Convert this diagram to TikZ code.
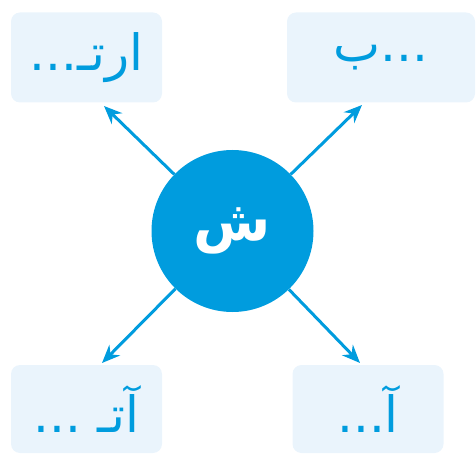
\documentclass[tikz,border=0pt]{standalone}
\usepackage{fontspec}
\newfontfamily\arabicfont[Script=Arabic]{DejaVu Sans}
\TeXXeTstate=1
\usetikzlibrary{arrows.meta}
\definecolor{azure}{RGB}{0,156,222}
\definecolor{palebox}{RGB}{234,244,252}
\tikzset{
	wordbox/.style={fill=palebox,rounded corners=9pt,minimum width=151pt,minimum height=90pt,
		text=azure,font=\arabicfont\fontsize{50}{54}\selectfont},
	hub/.style={circle,fill=azure,minimum size=162pt,inner sep=0pt,
		text=white,font=\arabicfont\bfseries\fontsize{56}{60}\selectfont},
	link/.style={draw=azure,line width=3pt,-{Stealth[length=18pt,width=15pt]}}
}
\begin{document}
\begin{tikzpicture}[x=1pt,y=-1pt]
	\useasboundingbox (0,0) rectangle (476,454);
	\node[hub](sh)at(232.5,231){\beginR ش\endR};
	\node[wordbox](tl)at(86.5,57.5){\beginR ارتـ...\endR};
	\node[wordbox,minimum width=188pt](tr)at(381,57.5){\beginR ...ب\endR};
	\node[wordbox,minimum height=88pt](bl)at(86.5,409){\beginR آتـ ...\endR};
	\node[wordbox,minimum height=88pt](br)at(368,409){\beginR آ...\endR};
	\coordinate(tlend)at(104,106);
	\coordinate(trend)at(362,105);
	\coordinate(blend)at(102,363);
	\coordinate(brend)at(360,363);
	\draw[link](sh)--(tlend);
	\draw[link](sh)--(trend);
	\draw[link](sh)--(blend);
	\draw[link](sh)--(brend);
\end{tikzpicture}
\end{document}
